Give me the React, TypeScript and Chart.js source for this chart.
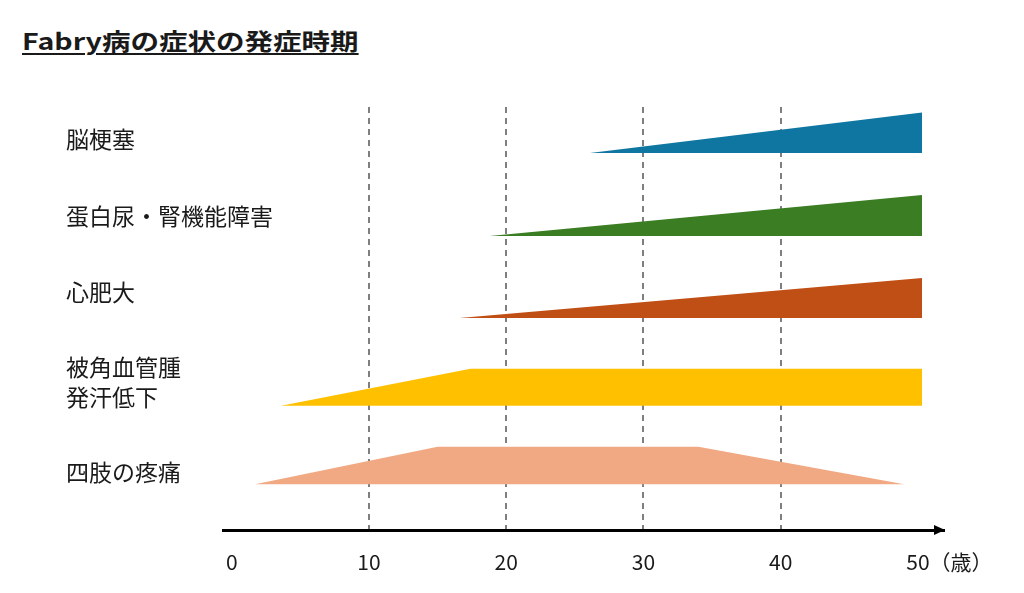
import React, { useEffect, useRef } from "react";
import { Chart, registerables } from "chart.js";

Chart.register(...registerables);

// ---- data ----
const TITLE = "Fabry病の症状の発症時期";
const SYMPTOMS: (string | string[])[] = [
  "脳梗塞",
  "蛋白尿・腎機能障害",
  "心肥大",
  ["被角血管腫", "発汗低下"],
  "四肢の疼痛",
];
const LABEL_Y = [92.4, 74.2, 56.1, 35.0, 13.6];
const ROW_BASE = [89.1, 69.5, 50.1, 29.4, 10.8];
const ROW_TOP = [98.7, 79.2, 59.6, 38.1, 19.7];
const AGE_TICKS = [0, 10, 20, 30, 40, 50];
const UNIT_LABEL = "（歳）";

const STROKE_AGES = [26.1, 50.3];
const STROKE_LEVEL = [0, 1];
const RENAL_AGES = [18.8, 50.3];
const RENAL_LEVEL = [0, 1];
const HEART_AGES = [16.6, 50.3];
const HEART_LEVEL = [0, 1];
const SKIN_AGES = [3.6, 17.4, 50.3];
const SKIN_LEVEL = [0, 1, 1];
const PAIN_AGES = [1.7, 15.0, 34.0, 49.0];
const PAIN_LEVEL = [0, 1, 1, 0];

const COLORS = ["#0E76A1", "#3B7D23", "#C04F15", "#FFC000", "#F1A983"];

const SHAPES = [
  [STROKE_AGES, STROKE_LEVEL],
  [RENAL_AGES, RENAL_LEVEL],
  [HEART_AGES, HEART_LEVEL],
  [SKIN_AGES, SKIN_LEVEL],
  [PAIN_AGES, PAIN_LEVEL],
];

const FONT = '"Noto Sans CJK JP", "Noto Sans", sans-serif';

const arrowPlugin = {
  id: "axisArrow",
  afterDraw(chart: any) {
    const { ctx, chartArea } = chart;
    const x = chart.scales.x;
    const y = x.top;
    ctx.save();
    ctx.fillStyle = "#000";
    ctx.beginPath();
    ctx.moveTo(chartArea.right + 1, y);
    ctx.lineTo(chartArea.right - 10, y - 5);
    ctx.lineTo(chartArea.right - 10, y + 5);
    ctx.closePath();
    ctx.fill();
    ctx.font = `21px ${FONT}`;
    ctx.fillStyle = "#1a1a1a";
    ctx.textBaseline = "middle";
    ctx.textAlign = "left";
    const px = x.getPixelForValue(50);
    const w = ctx.measureText("50").width;
    ctx.fillText(UNIT_LABEL, px + w / 2, y + 32);
    ctx.restore();
  },
};

export default function App() {
  const ref = useRef<HTMLCanvasElement>(null);

  useEffect(() => {
    if (!ref.current) return;
    Chart.defaults.font.family = FONT;
    const datasets = SHAPES.map(([ages, levels], i) => ({
      label: Array.isArray(SYMPTOMS[i]) ? (SYMPTOMS[i] as string[]).join("") : (SYMPTOMS[i] as string),
      data: ages.map((a, j) => ({
        x: a,
        y: ROW_BASE[i] + levels[j] * (ROW_TOP[i] - ROW_BASE[i]),
      })),
      fill: { value: ROW_BASE[i] },
      backgroundColor: COLORS[i],
      borderColor: "rgba(0,0,0,0)",
      borderWidth: 0,
      pointRadius: 0,
      tension: 0,
    }));

    const chart = new Chart(ref.current, {
      type: "line",
      data: { datasets },
      options: {
        animation: false,
        responsive: false,
        layout: { padding: { left: 223.5, right: 80, top: 107, bottom: 0 } },
        plugins: {
          legend: { display: false },
          tooltip: { enabled: false },
        },
        scales: {
          x: {
            type: "linear",
            min: -0.6,
            max: 51.9,
            afterBuildTicks: (s: any) => {
              s.ticks = AGE_TICKS.map((v) => ({ value: v }));
            },
            afterFit: (s: any) => {
              s.height = 63;
            },
            grid: {
              color: (c: any) =>
                c.tick && c.tick.value > 0 && c.tick.value < 50 ? "#7f7f7f" : "rgba(0,0,0,0)",
              lineWidth: 2,
              drawTicks: false,
            },
            border: { display: true, color: "#000", width: 3, dash: [6, 5] },
            ticks: {
              padding: 19,
              color: "#1a1a1a",
              font: { size: 21, family: FONT },
              autoSkip: false,
              maxRotation: 0,
              callback: (v: any) => String(v),
            },
          },
          y: {
            type: "linear",
            min: 0,
            max: 100,
            afterBuildTicks: (s: any) => {
              s.ticks = LABEL_Y.map((v) => ({ value: v }));
            },
            afterFit: (s: any) => {
              s.width = 0;
            },
            grid: { display: false, drawTicks: false },
            border: { display: false },
            ticks: {
              mirror: true,
              crossAlign: "near",
              padding: -157.5,
              color: "#1a1a1a",
              font: { size: 23, family: FONT, lineHeight: 1.3 },
              autoSkip: false,
              callback: (_v: any, i: number) => SYMPTOMS[i],
            },
          },
        },
      } as any,
      plugins: [arrowPlugin],
    });
    return () => chart.destroy();
  }, []);

  return (
    <div
      style={{
        position: "fixed",
        left: 0,
        top: 0,
        width: 1024,
        height: 593,
        background: "#fff",
        overflow: "hidden",
      }}
    >
      <div
        style={{
          position: "absolute",
          left: 22,
          top: 29,
          fontFamily: FONT,
          fontWeight: 700,
          fontSize: 23,
          lineHeight: "23px",
          textDecoration: "underline",
          textDecorationThickness: "2px",
          textUnderlineOffset: "3px",
          transform: "scaleX(1.24)",
          transformOrigin: "left top",
          color: "#1a1a1a",
          whiteSpace: "nowrap",
        }}
      >
        {TITLE}
      </div>
      <canvas
        ref={ref}
        width={1024}
        height={593}
        style={{ position: "absolute", left: 0, top: 0, width: 1024, height: 593 }}
      />
    </div>
  );
}
